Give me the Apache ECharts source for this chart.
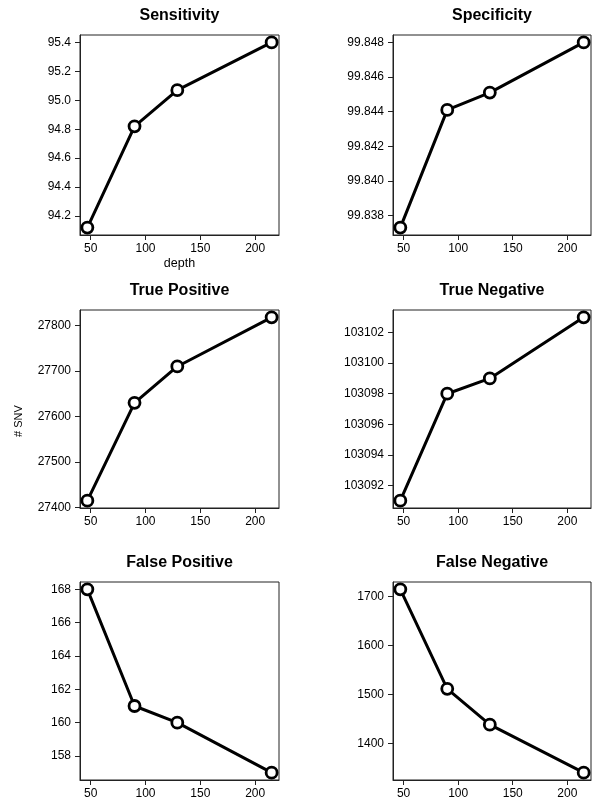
<!DOCTYPE html>
<html>
<head>
<meta charset="utf-8">
<script src="https://cdn.jsdelivr.net/npm/echarts@6/dist/echarts.min.js"></script>
<style>
html,body{margin:0;padding:0;background:#fff;}
#chart{width:593px;height:802px;}
</style>
</head>
<body>
<div id="chart"></div>
<script>
// ---- data ----
const depth = [47, 90, 129, 215];
const depthTicks = [50, 100, 150, 200];

const sensitivity = [94.12, 94.82, 95.07, 95.40];
const sensitivityTicks = [94.2, 94.4, 94.6, 94.8, 95.0, 95.2, 95.4];

const specificity = [99.8373, 99.8441, 99.8451, 99.8480];
const specificityTicks = [99.838, 99.840, 99.842, 99.844, 99.846, 99.848];

const truePositive = [27415, 27630, 27710, 27818];
const truePositiveTicks = [27400, 27500, 27600, 27700, 27800];

const trueNegative = [103091, 103098, 103099, 103103];
const trueNegativeTicks = [103092, 103094, 103096, 103098, 103100, 103102];

const falsePositive = [168, 161, 160, 157];
const falsePositiveTicks = [158, 160, 162, 164, 166, 168];

const falseNegative = [1714, 1511, 1438, 1340];
const falseNegativeTicks = [1400, 1500, 1600, 1700];

const titles = ['Sensitivity', 'Specificity', 'True Positive', 'True Negative', 'False Positive', 'False Negative'];
const xLabelText = 'depth';
const yLabelText = '# SNV';

// ---- layout ----
const panels = [
  {vals: sensitivity, ticks: sensitivityTicks, dec: 1},
  {vals: specificity, ticks: specificityTicks, dec: 3},
  {vals: truePositive, ticks: truePositiveTicks, dec: 0},
  {vals: trueNegative, ticks: trueNegativeTicks, dec: 0},
  {vals: falsePositive, ticks: falsePositiveTicks, dec: 0},
  {vals: falseNegative, ticks: falseNegativeTicks, dec: 0}
];
const colLeft = [80, 393], colWidth = [199, 198];
const rowTop = [35, 310, 582], rowHeight = [200, 198, 198];
const titleY = [16, 291, 563];
const FONT = '"Liberation Sans", Arial, Helvetica, sans-serif';

function padRange(arr) {
  const lo = Math.min(...arr), hi = Math.max(...arr);
  const p = (hi - lo) * 0.04;
  return [lo - p, hi + p];
}
const xr = padRange(depth);

const grids = [], xAxes = [], yAxes = [], series = [], graphics = [];
panels.forEach((pn, i) => {
  const c = i % 2, r = Math.floor(i / 2);
  grids.push({
    left: colLeft[c], top: rowTop[r], width: colWidth[c], height: rowHeight[r],
    show: true, borderColor: '#222', borderWidth: 1, backgroundColor: 'transparent',
    containLabel: false, outerBoundsMode: 'none'
  });
  xAxes.push({
    type: 'value', gridIndex: i, min: xr[0], max: xr[1],
    axisLine: {show: true, onZero: false, lineStyle: {color: '#222', width: 1}},
    axisTick: {show: true, length: 5, inside: false, customValues: depthTicks, lineStyle: {color: '#222', width: 1}},
    axisLabel: {show: true, customValues: depthTicks, margin: 8, color: '#000', fontSize: 12, fontFamily: FONT,
      showMinLabel: true, showMaxLabel: true},
    splitLine: {show: false},
    name: i === 0 ? xLabelText : '',
    nameLocation: 'middle', nameGap: 22,
    nameTextStyle: {color: '#000', fontSize: 12.5, fontFamily: FONT}
  });
  const yr = padRange(pn.vals);
  yAxes.push({
    type: 'value', gridIndex: i, min: yr[0], max: yr[1], scale: true,
    axisLine: {show: true, onZero: false, lineStyle: {color: '#222', width: 1}},
    axisTick: {show: true, length: 5, inside: false, customValues: pn.ticks, lineStyle: {color: '#222', width: 1}},
    axisLabel: {show: true, customValues: pn.ticks, margin: 9, color: '#000', fontSize: 12, fontFamily: FONT,
      formatter: v => Number(v).toFixed(pn.dec), showMinLabel: true, showMaxLabel: true},
    splitLine: {show: false}
  });
  series.push({
    type: 'line', xAxisIndex: i, yAxisIndex: i,
    data: depth.map((d, k) => [d, pn.vals[k]]),
    symbol: 'circle', symbolSize: 11, showSymbol: true, clip: false,
    lineStyle: {color: '#000', width: 3},
    itemStyle: {color: '#fff', borderColor: '#000', borderWidth: 2.8},
    emphasis: {disabled: true}, silent: true
  });
  graphics.push({
    type: 'text', x: colLeft[c] + colWidth[c] / 2, y: titleY[r],
    style: {text: titles[i], font: 'bold 16px ' + FONT, fill: '#000', align: 'center', verticalAlign: 'middle'}
  });
});
graphics.push({
  type: 'text', x: 19, y: 421, rotation: Math.PI / 2,
  style: {text: yLabelText, font: '11px ' + FONT, fill: '#000', align: 'center', verticalAlign: 'middle'}
});

const chart = echarts.init(document.getElementById('chart'), null, {renderer: 'canvas'});
chart.setOption({
  animation: false,
  backgroundColor: '#fff',
  grid: grids, xAxis: xAxes, yAxis: yAxes, series: series,
  graphic: graphics
});
</script>
</body>
</html>
